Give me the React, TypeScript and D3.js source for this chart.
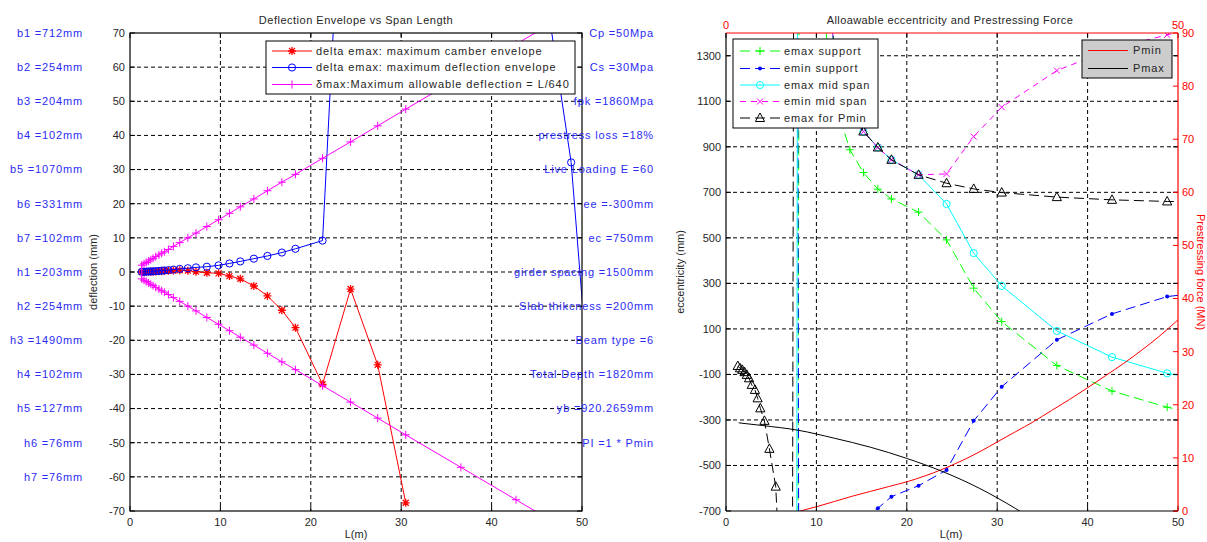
import React from "react";
import * as d3 from "d3";

const FONT = "'Liberation Sans', Arial, Helvetica, sans-serif";
const RED = "#ff0000";
const BLUE = "#0000ff";
const MAG = "#ff00ff";
const GRN = "#00ff00";
const CYN = "#00ffff";
const TXT = "#262626";
const NOTE = "#2b2bf5";
const DASH = "10,5";
const GRID = "4,3";

// span lengths (m) used by every envelope series
const spanL = [1.3, 1.55, 1.8, 2.05, 2.3, 2.55, 2.85, 3.2, 3.5, 3.8, 4.25, 4.8, 5.5, 6.4, 7.3, 8.5, 9.8, 11.0, 12.2, 13.7, 15.2, 16.8, 18.3, 21.3, 24.4, 27.4, 30.5, 36.6, 42.7, 48.8, 54.9];

// left panel, deflection (mm)
const camberEnv = [0.0, 0.0, 0.05, 0.05, 0.1, 0.1, 0.15, 0.2, 0.25, 0.3, 0.35, 0.45, 0.5, 0.4, 0.1, -0.2, -0.4, -1.2, -2.0, -4.1, -7.0, -11.2, -16.3, -32.9, -5.0, -27.2, -67.6, null, null, null, null];
const deflEnv = [0.05, 0.08, 0.1, 0.13, 0.17, 0.2, 0.25, 0.3, 0.38, 0.45, 0.55, 0.7, 0.9, 1.1, 1.35, 1.55, 1.95, 2.5, 3.1, 3.9, 4.7, 5.7, 6.8, 9.2, 170, 300, 400, 350, 140, 32.1, -170];
const allowDefl = [2.0, 2.4, 2.8, 3.2, 3.6, 4.0, 4.5, 5.0, 5.5, 5.9, 6.6, 7.5, 8.6, 10.0, 11.4, 13.3, 15.3, 17.2, 19.1, 21.4, 23.8, 26.3, 28.6, 33.3, 38.1, 42.8, 47.7, 57.2, 66.7, 76.3, 85.8];

// right panel, eccentricity (mm)
const emaxSupport = [-6000, -6500, -7000, -7500, -8000, -8500, -9000, -9500, -10000, -10500, -11000, -12000, -12500, -13500, -14000, 10000, 2600, 1420, 1080, 887, 787, 714, 671, 613, 491, 279, 132, -61, -173, -244, -300];
const eminSupport = [6000, 6500, 7000, 7500, 8000, 8500, 9000, 9500, 10000, 10500, 11000, 12000, 12500, 13500, 14000, -10000, -1600, -1100, -900, -800, -730, -688, -637, -589, -520, -304, -154, 52, 166, 242, 270];
const emaxMid = [-7000, -7500, -8000, -8500, -9000, -9500, -10000, -10500, -11000, -12000, -13000, -14000, -15000, -16000, -17000, 20000, 3000, 1700, 1250, 1080, 967, 897, 843, 777, 649, 433, 289, 91, -24, -95, -140];
const eminMid = [8000, 8500, 9000, 9500, 10000, 11000, 12000, 13000, 14000, 15000, 16000, 18000, 20000, 22000, 25000, 20000, 3000, 1700, 1250, 1080, 967, 897, 843, 777, 781, 945, 1074, 1235, 1330, 1392, 1450];
const emaxPmin = [-63, -73, -80, -90, -102, -117, -146, -168, -205, -249, -304, -427, -593, -1300, -2000, 22000, 3000, 1700, 1250, 1080, 967, 897, 843, 777, 740, 715, 699, 679, 667, 660, 655];

// prestressing force (MN)
const pminL = [8.2, 10, 12, 14, 16, 18, 20, 22, 24, 26, 28, 30, 32, 34, 36, 38, 40, 42, 44, 46, 48, 50];
const pmin = [0, 0.8, 1.8, 2.8, 3.7, 4.6, 5.5, 6.6, 7.9, 9.4, 11.1, 13.0, 14.9, 16.8, 18.9, 21.0, 23.2, 25.5, 27.8, 30.3, 33.0, 36.0];
const pmaxL = [1.4, 4, 8, 12, 16, 20, 24, 28, 32, 34];
const pmax = [16.6, 16.1, 15.2, 13.7, 12.0, 9.9, 7.4, 4.3, 0.5, -1.6];

// ticks
const spanTicks = [0, 10, 20, 30, 40, 50];
const deflTicks = [-70, -60, -50, -40, -30, -20, -10, 0, 10, 20, 30, 40, 50, 60, 70];
const eccTicks = [-700, -500, -300, -100, 100, 300, 500, 700, 900, 1100, 1300];
const forceTicks = [0, 10, 20, 30, 40, 50, 60, 70, 80, 90];

// text notes beside the left panel
const noteLevels = [70, 60, 50, 40, 30, 20, 10, 0, -10, -20, -30, -40, -50, -60];
const sectionNotes = ["b1 =712mm", "b2 =254mm", "b3 =204mm", "b4 =102mm", "b5 =1070mm", "b6 =331mm", "b7 =102mm", "h1 =203mm", "h2 =254mm", "h3 =1490mm", "h4 =102mm", "h5 =127mm", "h6 =76mm", "h7 =76mm"];
const designNotes = ["Cp =50Mpa", "Cs =30Mpa", "fpk =1860Mpa", "prestress loss =18%", "Live Loading E =60", "ee =-300mm", "ec =750mm", "girder spacing =1500mm", "Slab thikcness =200mm", "Beam type =6", "Total Depth =1820mm", "yb =920.2659mm", "PI =1 * Pmin"];

type Kind = "star" | "circle" | "plus" | "cross" | "tri" | "dot";

function marker(kind: Kind, cx: number, cy: number, color: string, key: any) {
  switch (kind) {
    case "plus":
      return <path key={key} d={`M${cx - 4},${cy}H${cx + 4}M${cx},${cy - 4}V${cy + 4}`} stroke={color} fill="none" />;
    case "cross":
      return <path key={key} d={`M${cx - 3},${cy - 3}L${cx + 3},${cy + 3}M${cx - 3},${cy + 3}L${cx + 3},${cy - 3}`} stroke={color} fill="none" />;
    case "star":
      return <path key={key} d={`M${cx - 4},${cy}H${cx + 4}M${cx},${cy - 4}V${cy + 4}M${cx - 3},${cy - 3}L${cx + 3},${cy + 3}M${cx - 3},${cy + 3}L${cx + 3},${cy - 3}`} stroke={color} strokeWidth={1.3} fill="none" />;
    case "circle":
      return <circle key={key} cx={cx} cy={cy} r={3.6} stroke={color} fill="none" />;
    case "tri":
      return <path key={key} d={`M${cx},${cy - 5}L${cx + 4.6},${cy + 3.5}L${cx - 4.6},${cy + 3.5}Z`} stroke={color} fill="none" />;
    case "dot":
      return <circle key={key} cx={cx} cy={cy} r={2} fill={color} />;
  }
}

function Series({ xs, ys, sx, sy, color, dash, kind, clip, smooth }: any) {
  const pts: [number, number][] = [];
  xs.forEach((v: number, i: number) => {
    if (ys[i] != null) pts.push([v, ys[i]]);
  });
  const line = d3.line<[number, number]>().x(d => sx(d[0])).y(d => sy(d[1]));
  if (smooth) line.curve(d3.curveMonotoneX);
  const [x0, x1] = sx.domain();
  const [y0, y1] = sy.domain();
  return (
    <g clipPath={`url(#${clip})`}>
      <path d={line(pts) || ""} fill="none" stroke={color} strokeWidth={1} strokeDasharray={dash} />
      {kind && pts
        .filter(p => p[0] >= x0 && p[0] <= x1 && p[1] >= y0 && p[1] <= y1)
        .map((p, i) => marker(kind, sx(p[0]), sy(p[1]), color, i))}
    </g>
  );
}

function Legend({ x, y, w, h, items, fill, rowY, lineX, textX }: any) {
  return (
    <g>
      <rect x={x} y={y} width={w} height={h} fill={fill} stroke="#000" strokeWidth={1} />
      {items.map((it: any, i: number) => (
        <g key={i}>
          <line x1={lineX[0]} x2={lineX[1]} y1={rowY[i]} y2={rowY[i]} stroke={it.color} strokeDasharray={it.dash} />
          {it.kind && marker(it.kind, (lineX[0] + lineX[1]) / 2, rowY[i], it.color, "m")}
          <text x={textX} y={rowY[i]} dy="0.35em" fontSize={11} letterSpacing={0.9} fill={TXT}>{it.label}</text>
        </g>
      ))}
    </g>
  );
}

export default function App() {
  const lx = d3.scaleLinear().domain([0, 50]).range([130, 582]);
  const ly = d3.scaleLinear().domain([-70, 70]).range([511, 33]);
  const rx = d3.scaleLinear().domain([0, 50]).range([726, 1178]);
  const ry = d3.scaleLinear().domain([-700, 1400]).range([511, 33]);
  const ry2 = d3.scaleLinear().domain([0, 90]).range([511, 33]);

  const magXs = [...spanL].reverse().concat(spanL);
  const magYs = [...allowDefl].reverse().concat(allowDefl.map(v => -v));

  const top = 33, bot = 511;

  return (
    <svg width={1207} height={542} style={{ position: "absolute", left: 0, top: 0, background: "#fff" }} fontFamily={FONT}>
      <defs>
        <clipPath id="clipL"><rect x={130} y={33} width={452} height={478} /></clipPath>
        <clipPath id="clipR"><rect x={726} y={33} width={452} height={478} /></clipPath>
      </defs>

      {/* ---------- left panel ---------- */}
      <g>
        {spanTicks.slice(1, -1).map(t => (
          <line key={t} x1={lx(t)} x2={lx(t)} y1={top} y2={bot} stroke="#000" strokeDasharray={GRID} />
        ))}
        {deflTicks.slice(1, -1).map(t => (
          <line key={t} x1={130} x2={582} y1={ly(t)} y2={ly(t)} stroke="#000" strokeDasharray={GRID} />
        ))}
        <Series xs={spanL} ys={camberEnv} sx={lx} sy={ly} color={RED} kind="star" clip="clipL" />
        <Series xs={spanL} ys={deflEnv} sx={lx} sy={ly} color={BLUE} kind="circle" clip="clipL" />
        <Series xs={magXs} ys={magYs} sx={lx} sy={ly} color={MAG} kind="plus" clip="clipL" />
        <rect x={130} y={top} width={452} height={478} fill="none" stroke="#000" strokeWidth={1.2} />
        {spanTicks.map(t => (
          <g key={t}>
            <line x1={lx(t)} x2={lx(t)} y1={bot} y2={bot - 5} stroke="#000" />
            <line x1={lx(t)} x2={lx(t)} y1={top} y2={top + 5} stroke="#000" />
            <text x={lx(t)} y={526} textAnchor="middle" fontSize={11} fill={TXT}>{t}</text>
          </g>
        ))}
        {deflTicks.map(t => (
          <g key={t}>
            <line x1={130} x2={135} y1={ly(t)} y2={ly(t)} stroke="#000" />
            <line x1={582} x2={577} y1={ly(t)} y2={ly(t)} stroke="#000" />
            <text x={125} y={ly(t)} dy="0.35em" textAnchor="end" fontSize={11} fill={TXT}>{t}</text>
          </g>
        ))}
        <text x={356} y={24} textAnchor="middle" fontSize={11} letterSpacing={0.5} fill={TXT}>Deflection Envelope vs Span Length</text>
        <text x={356} y={538} textAnchor="middle" fontSize={11} fill={TXT}>L(m)</text>
        <text transform="translate(93,272) rotate(-90)" textAnchor="middle" dy="0.35em" fontSize={11} fill={TXT}>deflection (mm)</text>
        <Legend
          x={266} y={41} w={309} h={53} fill="#fff"
          rowY={[51, 67.5, 84.5]} lineX={[272, 312]} textX={316}
          items={[
            { label: "delta emax: maximum camber envelope", color: RED, kind: "star" },
            { label: "delta emax: maximum deflection envelope", color: BLUE, kind: "circle" },
            { label: "δmax:Maximum allowable deflection = L/640", color: MAG, kind: "plus" },
          ]}
        />
        {sectionNotes.map((s, i) => (
          <text key={s} x={83} y={ly(noteLevels[i])} dy="0.35em" textAnchor="end" fontSize={11} letterSpacing={0.85} fill={NOTE}>{s}</text>
        ))}
        {designNotes.map((s, i) => (
          <text key={s} x={654} y={ly(noteLevels[i])} dy="0.35em" textAnchor="end" fontSize={11} letterSpacing={0.85} fill={NOTE}>{s}</text>
        ))}
      </g>

      {/* ---------- right panel ---------- */}
      <g>
        {spanTicks.slice(1, -1).map(t => (
          <line key={t} x1={rx(t)} x2={rx(t)} y1={top} y2={bot} stroke="#000" strokeDasharray={GRID} />
        ))}
        {eccTicks.slice(1).map(t => (
          <line key={t} x1={726} x2={1178} y1={ry(t)} y2={ry(t)} stroke="#000" strokeDasharray={GRID} />
        ))}
        <Series xs={spanL} ys={emaxSupport} sx={rx} sy={ry} color={GRN} dash={DASH} kind="plus" clip="clipR" />
        <Series xs={spanL} ys={eminSupport} sx={rx} sy={ry} color={BLUE} dash={DASH} kind="dot" clip="clipR" />
        <Series xs={spanL} ys={emaxMid} sx={rx} sy={ry} color={CYN} kind="circle" clip="clipR" />
        <Series xs={spanL} ys={eminMid} sx={rx} sy={ry} color={MAG} dash="6,5" kind="cross" clip="clipR" />
        <Series xs={spanL} ys={emaxPmin} sx={rx} sy={ry} color="#000" dash={DASH} kind="tri" clip="clipR" />
        <Series xs={pminL} ys={pmin} sx={rx} sy={ry2} color={RED} clip="clipR" smooth />
        <Series xs={pmaxL} ys={pmax} sx={rx} sy={ry2} color="#000" clip="clipR" smooth />

        <line x1={726} x2={726} y1={top} y2={bot} stroke="#000" strokeWidth={1.2} />
        <line x1={726} x2={1178} y1={bot} y2={bot} stroke="#000" strokeWidth={1.2} />
        {spanTicks.map(t => (
          <g key={t}>
            <line x1={rx(t)} x2={rx(t)} y1={bot} y2={bot - 5} stroke="#000" />
            <line x1={rx(t)} x2={rx(t)} y1={top} y2={top + 5} stroke="#000" />
            <text x={rx(t)} y={526} textAnchor="middle" fontSize={11} fill={TXT}>{t}</text>
          </g>
        ))}
        {eccTicks.map(t => (
          <g key={t}>
            <line x1={726} x2={731} y1={ry(t)} y2={ry(t)} stroke="#000" />
            <line x1={1178} x2={1173} y1={ry(t)} y2={ry(t)} stroke="#000" />
            <text x={721} y={ry(t)} dy="0.35em" textAnchor="end" fontSize={11} fill={TXT}>{t}</text>
          </g>
        ))}
        {/* secondary axes in red */}
        <line x1={726} x2={1178} y1={top} y2={top} stroke={RED} strokeWidth={1.2} />
        <line x1={1178} x2={1178} y1={top} y2={bot} stroke={RED} strokeWidth={1.2} />
        {forceTicks.map(t => (
          <g key={t}>
            <line x1={1178} x2={1173} y1={ry2(t)} y2={ry2(t)} stroke={RED} />
            <text x={1182} y={ry2(t)} dy="0.35em" fontSize={11} fill={RED}>{t}</text>
          </g>
        ))}
        {[spanTicks[0], spanTicks[spanTicks.length - 1]].map(t => (
          <text key={t} x={rx(t)} y={29} textAnchor="middle" fontSize={11} fill={RED}>{t}</text>
        ))}
        <text x={950} y={24} textAnchor="middle" fontSize={11} letterSpacing={0.4} fill={TXT}>Alloawable eccentricity and Prestressing Force</text>
        <text x={951} y={538} textAnchor="middle" fontSize={11} fill={TXT}>L(m)</text>
        <text transform="translate(680,272) rotate(-90)" textAnchor="middle" dy="0.35em" fontSize={11} fill={TXT}>eccentricity (mm)</text>
        <text transform="translate(1201,272) rotate(90)" textAnchor="middle" dy="0.35em" fontSize={11} fill={RED}>Prestressing force (MN)</text>

        <Legend
          x={733} y={39} w={145} h={89} fill="#fff"
          rowY={[51, 68.5, 85, 101.5, 118]} lineX={[740, 780]} textX={784}
          items={[
            { label: "emax support", color: GRN, kind: "plus", dash: DASH },
            { label: "emin support", color: BLUE, kind: "dot", dash: DASH },
            { label: "emax mid span", color: CYN, kind: "circle" },
            { label: "emin mid span", color: MAG, kind: "cross", dash: "6,5" },
            { label: "emax for Pmin", color: "#000", kind: "tri", dash: DASH },
          ]}
        />
        <Legend
          x={1082} y={40} w={90} h={38} fill="#cccccc"
          rowY={[50.5, 68.5]} lineX={[1088, 1128]} textX={1133}
          items={[
            { label: "Pmin", color: RED },
            { label: "Pmax", color: "#000" },
          ]}
        />
      </g>
    </svg>
  );
}
